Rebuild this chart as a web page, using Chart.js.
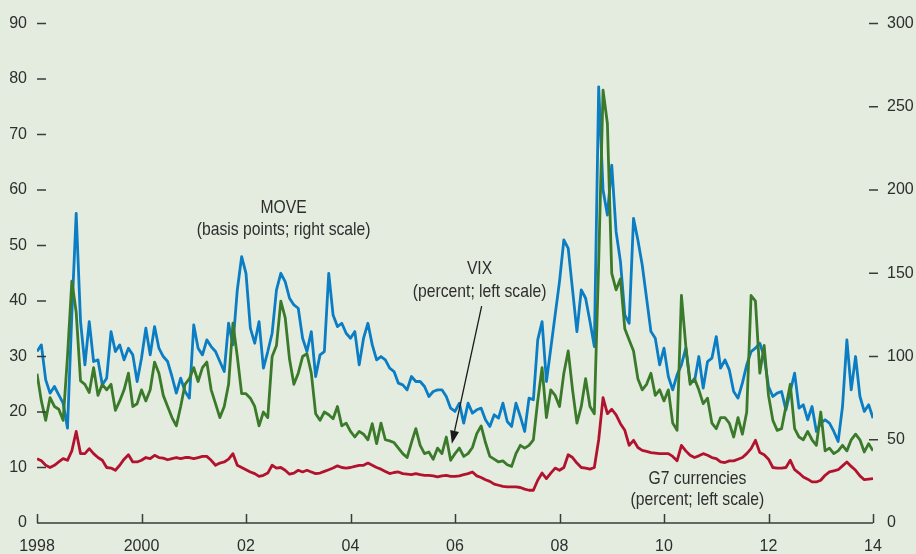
<!DOCTYPE html>
<html>
<head>
<meta charset="utf-8">
<script src="https://cdn.jsdelivr.net/npm/chart.js@4.4.1/dist/chart.umd.min.js"></script>
<style>
  html, body { margin: 0; padding: 0; background: #e3ecdf; }
  #caixa { width: 916px; height: 554px; }
</style>
</head>
<body>
<div id="caixa"><canvas id="grafico" width="916" height="554"></canvas></div>
<script>
// Monthly readings, Jan 1998 .. Jan 2014
const startYear = 1998;

// MOVE, basis points (right scale)
const moveValues = [
  103, 107, 86, 78, 82, 77, 72, 57, 125, 186, 121, 95,
  121, 97, 98, 83, 87, 115, 103, 107, 98, 105, 101, 85,
  99, 117, 101, 118, 105, 100, 97, 88, 78, 87, 79, 75,
  119, 105, 101, 110, 106, 103, 97, 91, 120, 107, 140, 160,
  150, 117, 108, 121, 93, 103, 114, 140, 150, 145, 135, 131,
  129, 111, 103, 115, 88, 101, 103, 150, 125, 118, 120, 114,
  111, 115, 95, 111, 120, 107, 98, 100, 98, 93, 91, 84,
  83, 80, 88, 85, 85, 82, 76, 79, 80, 80, 76, 69,
  67, 72, 60, 72, 66, 68, 69, 62, 58, 65, 63, 72,
  61, 58, 72, 64, 55, 75, 74, 110, 121, 85, 105, 125,
  145, 170, 165, 140, 115, 140, 135, 121, 106, 262, 200, 185,
  215, 175, 157, 125, 120, 183, 170, 155, 135, 115, 111, 95,
  105, 88, 80, 89, 95, 105, 85, 85, 100, 81, 97, 99,
  112, 93, 98, 92, 79, 75, 84, 95, 103, 105, 108, 100,
  82, 76, 78, 79, 68, 79, 90, 69, 71, 62, 70, 55,
  60, 62, 60, 55, 49, 70, 110, 80, 100, 76, 67, 71,
  63
];

// VIX, percent (left scale)
const vixValues = [
  26.9, 22, 18.5, 22.6, 21, 20.5, 18.5, 30, 43.6, 38, 25.6, 25,
  23.5, 28, 23, 25, 24, 25, 20.3, 22, 24, 27, 21, 21.5,
  24, 22, 24, 29, 27, 23, 21, 19, 17.5, 21, 25, 26,
  28, 25.5, 28, 29, 24, 21.5, 19, 21, 25, 36, 30, 23.3,
  23.3, 22.5, 21, 17.5, 20, 19, 30, 32, 40, 37, 29.5, 25,
  27, 30, 30.5, 27, 19.7, 18.5, 20, 19.5, 18.8, 21, 17.5, 18,
  16.5, 15.5, 16.5, 16, 15, 17.9, 14.3, 18, 15, 14.8, 14.5, 13.5,
  12.5, 11.8, 14.5, 17, 14, 12.5, 12.8, 11.5, 13.5, 12.5, 15.5, 11.3,
  12.5, 13.5, 12, 12.5, 13.6, 16.1, 17.5, 14.5, 12, 11.5, 11, 11.2,
  10.5, 10.2, 12.5, 14, 13.5, 14, 15, 22, 28, 19, 24, 23,
  21, 27, 31, 24, 18, 21, 26, 21, 19.7, 47, 78, 72,
  45, 42, 44, 35, 33, 31, 26, 24, 25, 27, 23, 24,
  22, 24, 18, 16.7, 41, 32, 25, 26, 24, 21.5, 22.5, 18,
  17, 19, 19, 18, 15.5, 19, 16, 20, 41, 40, 27, 32,
  23, 18.5, 16.7, 17, 21, 25, 17, 15.5, 15, 16.5, 15, 14,
  20, 13, 13.5, 12.5, 13, 14, 13, 15, 16, 15, 12.8, 14.3,
  13
];

// G7 currencies, percent (left scale)
const g7Values = [
  11.6, 11.2, 10.4, 10, 10.4, 11, 11.6, 11.3, 13, 16.5, 12.5, 12.5,
  13.4, 12.5, 11.8, 11.3, 10, 9.9, 9.5, 10.4, 11.5, 12.3, 11, 11,
  11.3, 11.8, 11.6, 12.2, 11.8, 11.7, 11.4, 11.6, 11.8, 11.6, 11.8, 11.8,
  11.6, 11.8, 12, 12, 11.3, 10.4, 10.8, 11, 11.5, 12.5, 10.4, 10,
  9.6, 9.2, 8.9, 8.4, 8.6, 9, 10.4, 9.9, 10, 9.5, 8.8, 9,
  9.5, 9.2, 9.5, 9.2, 8.9, 9, 9.3, 9.6, 9.9, 10.3, 10, 9.9,
  10, 10.2, 10.4, 10.4, 10.8, 10.4, 10, 9.7, 9.3, 8.9, 9.1, 9.2,
  8.9, 8.8, 8.7, 8.9, 8.7, 8.6, 8.6, 8.5, 8.3, 8.5, 8.6, 8.4,
  8.4, 8.5, 8.7, 8.9, 9.2, 8.5, 8.2, 7.8, 7.5, 7, 6.8, 6.6,
  6.5, 6.5, 6.5, 6.4, 6.1, 5.9, 5.9, 7.7, 9, 8, 9, 9.9,
  9.5, 10, 12.3, 11.8, 10.8, 10, 9.9, 9.7, 10, 15, 22.6, 19.7,
  20.5, 19.5, 17.9, 16.7, 14, 14.9, 13.6, 13.1, 12.9, 12.7, 12.6, 12.5,
  12.5, 12.5, 12, 11.2, 14, 13, 12.2, 11.8, 12.1, 12.5, 12.2, 11.8,
  11.6, 11, 10.9, 11.2, 11.2, 11.5, 11.8, 12.5, 13.4, 14.9, 12.7, 12.3,
  11.5, 10, 9.9, 9.9, 10, 11.3, 9.6, 9, 8.3, 7.9, 7.4, 7.4,
  7.7, 8.6, 9.2, 9.4, 9.6, 10.3, 11, 10.2, 9.5, 8.5, 7.8, 7.9,
  8
];

// Axis ticks
const leftTicks = [0, 10, 20, 30, 40, 50, 60, 70, 80, 90];
const rightTicks = [0, 50, 100, 150, 200, 250, 300];
const xTickYears = [1998, 2000, 2002, 2004, 2006, 2008, 2010, 2012, 2014];
const xTickLabels = ['1998', '2000', '02', '04', '06', '08', '10', '12', '14'];

document.addEventListener('DOMContentLoaded', function() {
    const ctx = document.getElementById('grafico');
    const fonte = "'Liberation Sans', Arial, sans-serif";
    Chart.defaults.font.family = fonte;
    Chart.defaults.font.size = 16;
    Chart.defaults.color = '#2e2e2e';

    function paraPontos(values) {
        return values.map((v, i) => ({ x: startYear + i / 12, y: v }));
    }

    // Text notes placed in data coordinates (x = year, y = left-scale value)
    const notas = [
        { text: 'MOVE', x: 2002.72, y: 55.9 },
        { text: '(basis points; right scale)', x: 2002.72, y: 51.9 },
        { text: 'VIX', x: 2006.47, y: 44.8 },
        { text: '(percent; left scale)', x: 2006.47, y: 40.8 },
        { text: 'G7 currencies', x: 2010.64, y: 7.0 },
        { text: '(percent; left scale)', x: 2010.64, y: 3.2 }
    ];
    const seta = { from: { x: 2006.51, y: 39.1 }, to: { x: 2005.94, y: 14.3 } };

    // Axis line, inner tick marks, notes and arrow
    const decoracao = {
        id: 'decoracao',
        afterDraw(chart) {
            const c = chart.ctx;
            const a = chart.chartArea;
            const sx = chart.scales.x, sy = chart.scales.y, sy2 = chart.scales.y2;
            c.save();
            c.strokeStyle = '#3a3a3a';
            c.lineWidth = 1.5;
            c.beginPath();
            c.moveTo(a.left, a.bottom);
            c.lineTo(a.right, a.bottom);
            xTickYears.forEach(v => {
                const px = Math.round(sx.getPixelForValue(v)) + 0.5;
                c.moveTo(px, a.bottom);
                c.lineTo(px, a.bottom - 9);
            });
            leftTicks.forEach(v => {
                if (v === 0) return;
                const py = sy.getPixelForValue(v);
                c.moveTo(a.left, py);
                c.lineTo(a.left + 9, py);
            });
            rightTicks.forEach(v => {
                if (v === 0) return;
                const py = sy2.getPixelForValue(v);
                c.moveTo(a.right - 4, py);
                c.lineTo(a.right + 5, py);
            });
            c.stroke();

            // condensed look for the notes
            c.fillStyle = '#2e2e2e';
            c.font = '18.5px ' + fonte;
            c.textAlign = 'center';
            c.textBaseline = 'alphabetic';
            notas.forEach(n => {
                const px = sx.getPixelForValue(n.x), py = sy.getPixelForValue(n.y);
                c.save();
                c.translate(px, py);
                c.scale(0.85, 1);
                c.fillText(n.text, 0, 0);
                c.restore();
            });

            // arrow
            const x1 = sx.getPixelForValue(seta.from.x), y1 = sy.getPixelForValue(seta.from.y);
            const x2 = sx.getPixelForValue(seta.to.x), y2 = sy.getPixelForValue(seta.to.y);
            const ang = Math.atan2(y2 - y1, x2 - x1);
            const len = 13, meia = 4.5;
            c.strokeStyle = '#1a1a1a';
            c.lineWidth = 1.3;
            c.beginPath();
            c.moveTo(x1, y1);
            c.lineTo(x2 - Math.cos(ang) * len, y2 - Math.sin(ang) * len);
            c.stroke();
            c.fillStyle = '#1a1a1a';
            c.beginPath();
            c.moveTo(x2, y2);
            c.lineTo(x2 - Math.cos(ang) * len - Math.sin(ang) * meia, y2 - Math.sin(ang) * len + Math.cos(ang) * meia);
            c.lineTo(x2 - Math.cos(ang) * len + Math.sin(ang) * meia, y2 - Math.sin(ang) * len - Math.cos(ang) * meia);
            c.closePath();
            c.fill();
            c.restore();
        }
    };

    new Chart(ctx, {
        type: 'line',
        data: {
            datasets: [
                {
                    label: 'VIX',
                    data: paraPontos(vixValues),
                    borderColor: '#3b7a2a',
                    yAxisID: 'y'
                },
                {
                    label: 'MOVE',
                    data: paraPontos(moveValues),
                    borderColor: '#0a7dc4',
                    yAxisID: 'y2'
                },
                {
                    label: 'G7 currencies',
                    data: paraPontos(g7Values),
                    borderColor: '#b3122e',
                    yAxisID: 'y'
                }
            ]
        },
        options: {
            responsive: false,
            animation: false,
            layout: { padding: { top: 21, left: 0, right: 0, bottom: 0 } },
            elements: {
                line: { borderWidth: 2.8, tension: 0, borderJoinStyle: 'round', fill: false },
                point: { radius: 0 }
            },
            plugins: {
                legend: { display: false },
                tooltip: { enabled: false }
            },
            scales: {
                x: {
                    type: 'linear',
                    min: 1998,
                    max: 2014,
                    grid: { display: false, drawTicks: false },
                    border: { display: false },
                    afterBuildTicks: s => { s.ticks = xTickYears.map(v => ({ value: v })); },
                    afterFit: s => { s.height = 31; },
                    ticks: {
                        padding: 14,
                        maxRotation: 0,
                        autoSkip: false,
                        callback: v => xTickLabels[xTickYears.indexOf(v)]
                    }
                },
                y: {
                    position: 'left',
                    min: 0,
                    max: 90,
                    grid: { display: false, drawTicks: false },
                    border: { display: false },
                    afterBuildTicks: s => { s.ticks = leftTicks.map(v => ({ value: v })); },
                    afterFit: s => { s.width = 37; },
                    ticks: { padding: 10 }
                },
                y2: {
                    position: 'right',
                    min: 0,
                    max: 300,
                    grid: { display: false, drawTicks: false },
                    border: { display: false },
                    afterBuildTicks: s => { s.ticks = rightTicks.map(v => ({ value: v })); },
                    afterFit: s => { s.width = 43; },
                    ticks: { padding: 14 }
                }
            }
        },
        plugins: [decoracao]
    });
});
</script>
</body>
</html>
